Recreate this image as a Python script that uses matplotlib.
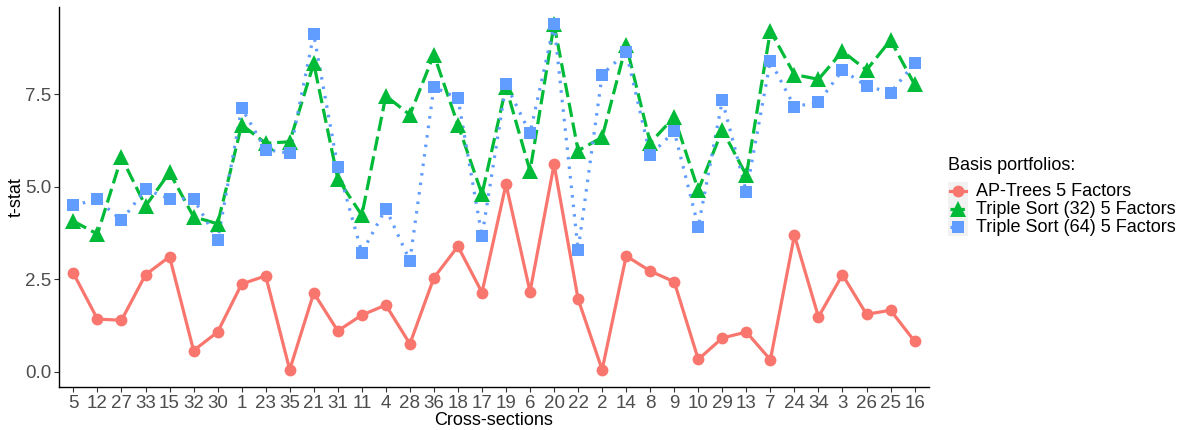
import matplotlib
matplotlib.use("Agg")
import matplotlib.pyplot as plt
from matplotlib.lines import Line2D
from matplotlib.patches import Rectangle

plt.rcParams["font.family"] = ["Liberation Sans", "DejaVu Sans"]

# Secciones transversales en el orden del eje X
secciones = ["5", "12", "27", "33", "15", "32", "30", "1", "23", "35", "21", "31",
             "11", "4", "28", "36", "18", "17", "19", "6", "20", "22", "2", "14",
             "8", "9", "10", "29", "13", "7", "24", "34", "3", "26", "25", "16"]

ap_trees = [2.66, 1.42, 1.39, 2.62, 3.11, 0.57, 1.07, 2.37, 2.59, 0.05, 2.13, 1.10,
            1.53, 1.80, 0.75, 2.54, 3.39, 2.14, 5.07, 2.16, 5.61, 1.96, 0.05, 3.13,
            2.72, 2.43, 0.33, 0.91, 1.07, 0.32, 3.69, 1.48, 2.62, 1.55, 1.66, 0.82]

ts32 = [4.07, 3.72, 5.80, 4.48, 5.39, 4.19, 4.00, 6.68, 6.18, 6.22, 8.34, 5.22,
        4.23, 7.46, 6.95, 8.58, 6.68, 4.80, 7.70, 5.43, 9.40, 5.98, 6.34, 8.84,
        6.19, 6.89, 4.91, 6.54, 5.31, 9.22, 8.04, 7.91, 8.67, 8.16, 8.97, 7.77]

ts64 = [4.50, 4.66, 4.09, 4.93, 4.68, 4.68, 3.55, 7.13, 6.01, 5.91, 9.13, 5.54,
        3.22, 4.41, 3.00, 7.70, 7.40, 3.66, 7.77, 6.45, 9.40, 3.28, 8.04, 8.64,
        5.86, 6.50, 3.92, 7.34, 4.86, 8.41, 7.17, 7.29, 8.16, 7.73, 7.55, 8.34]

series = [
    ("AP-Trees 5 Factors", ap_trees, "#F8766D", "-", "o", 8.5),
    ("Triple Sort (32) 5 Factors", ts32, "#00BA38", (0, (4.5, 1.8)), "^", 11),
    ("Triple Sort (64) 5 Factors", ts64, "#619CFF", (0, (0.8, 2.2)), "s", 8),
]

fig = plt.figure(figsize=(11.83, 4.30), dpi=100)
ax = fig.add_axes([59 / 1183, 1 - 387 / 430, (929 - 59) / 1183, (387 - 7) / 430])

x = list(range(len(secciones)))

# primero todas las líneas, luego los puntos (como ggplot)
for nombre, vals, color, ls, mk, ms in series:
    ax.plot(x, vals, color=color, linestyle=ls, linewidth=2.3, zorder=2)
for nombre, vals, color, ls, mk, ms in series:
    ax.plot(x, vals, color=color, linestyle="none", marker=mk, markersize=ms,
            markeredgewidth=0, zorder=3)

todos = ap_trees + ts32 + ts64
rango = max(todos) - min(todos)
ax.set_ylim(min(todos) - 0.05 * rango, max(todos) + 0.05 * rango)
ax.set_xlim(-0.6, len(secciones) - 0.4)

ax.set_xticks(x)
ax.set_xticklabels(secciones)
ax.set_yticks([0, 2.5, 5.0, 7.5])
ax.set_yticklabels(["0.0", "2.5", "5.0", "7.5"])
ax.tick_params(axis="both", labelsize=13.5, labelcolor="#4D4D4D", color="#333333",
               length=3.5, width=0.8, pad=2)

for lado in ["top", "right"]:
    ax.spines[lado].set_visible(False)
for lado in ["left", "bottom"]:
    ax.spines[lado].set_linewidth(1.0)
    ax.spines[lado].set_color("black")

ax.set_xlabel("Cross-sections", fontsize=13, labelpad=0)
ax.set_ylabel("t-stat", fontsize=13, labelpad=0)

# Leyenda a mano para imitar las cajas grises de ggplot
W, H = 1183.0, 430.0
fig.text(948 / W, 1 - 165 / H, "Basis portfolios:", fontsize=13, va="center", ha="left")
y0 = 182.5
alto = 17.8
for i, (nombre, vals, color, ls, mk, ms) in enumerate(series):
    top = y0 + i * alto
    yc = top + alto / 2
    fig.patches.append(Rectangle((948 / W, 1 - (top + alto) / H), 20 / W, alto / H,
                                 transform=fig.transFigure, facecolor="#F2F2F2",
                                 edgecolor="none"))
    fig.lines.append(Line2D([950 / W, 966 / W], [1 - yc / H, 1 - yc / H],
                            transform=fig.transFigure, color=color, linewidth=2.3,
                            linestyle=ls))
    fig.lines.append(Line2D([958 / W], [1 - yc / H], transform=fig.transFigure,
                            color=color, marker=mk, markersize=ms,
                            markeredgewidth=0, linestyle="none"))
    fig.text(976 / W, 1 - yc / H, nombre, fontsize=13, va="center", ha="left")

fig.savefig("out.png", dpi=100)
